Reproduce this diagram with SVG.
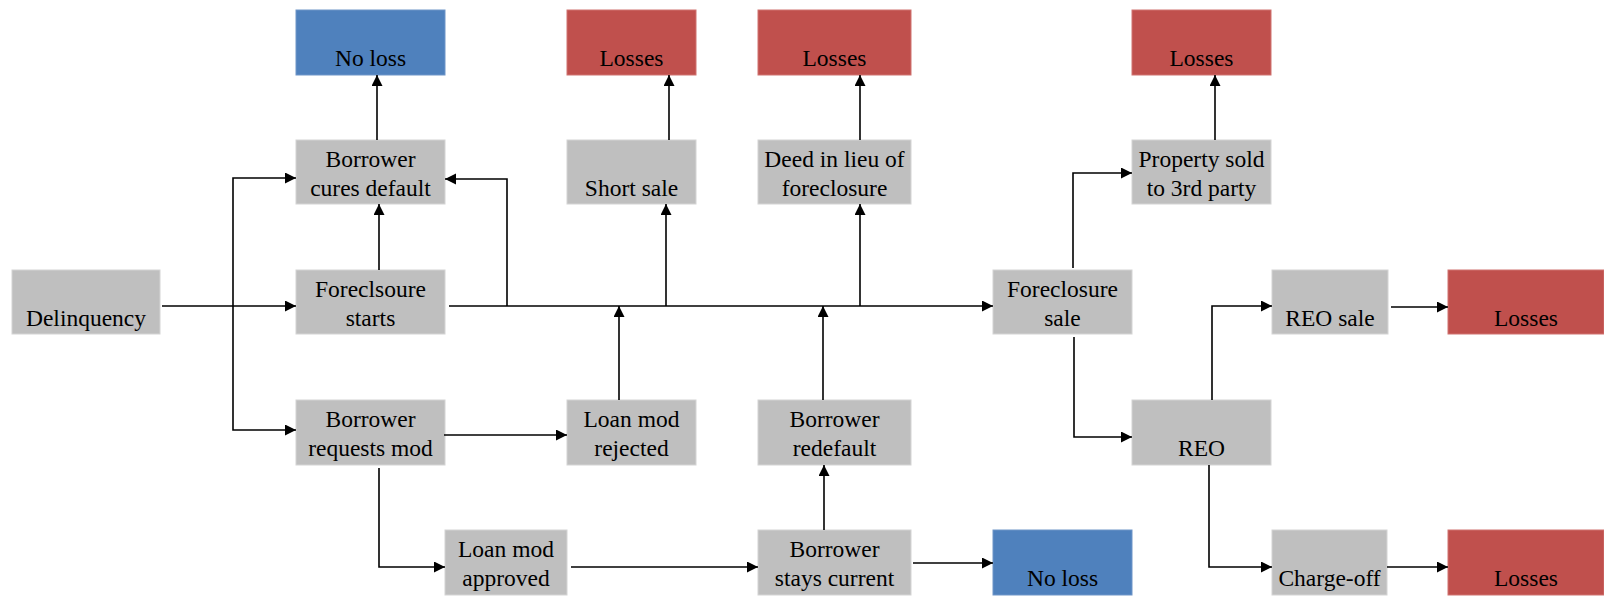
<svg xmlns="http://www.w3.org/2000/svg" width="1604" height="597" viewBox="0 0 1604 597">
<defs>
<marker id="arr" markerUnits="userSpaceOnUse" markerWidth="12" markerHeight="12" refX="11" refY="5.5" orient="auto">
<path d="M0,0 L11,5.5 L0,11 z" fill="#000"/>
</marker>
<style>
.g{fill:#BFBFBF;stroke:#D4D4D4;stroke-width:1}
.b{fill:#4F81BD;stroke:#6F95C8;stroke-width:1}
.r{fill:#C0504D;stroke:#D07370;stroke-width:1}
text{font-family:"Liberation Serif","Times New Roman",serif;font-size:23.5px;fill:#000;text-anchor:middle}
.c path{fill:none;stroke:#000;stroke-width:1.6;marker-end:url(#arr)}
</style>
</defs>
<rect width="1604" height="597" fill="#fff"/>

<g id="delinquency"><rect class="g" x="12" y="270" width="148" height="64"/><text x="86" y="326">Delinquency</text></g>
<g id="noloss1"><rect class="b" x="296" y="10" width="149" height="65"/><text x="370.5" y="66">No loss</text></g>
<g id="cures"><rect class="g" x="296" y="140" width="149" height="64"/><text x="370.5" y="167">Borrower</text><text x="370.5" y="196">cures default</text></g>
<g id="fstarts"><rect class="g" x="296" y="270" width="149" height="64"/><text x="370.5" y="297">Foreclsoure</text><text x="370.5" y="326">starts</text></g>
<g id="reqmod"><rect class="g" x="296" y="400" width="149" height="65"/><text x="370.5" y="427">Borrower</text><text x="370.5" y="456">requests mod</text></g>
<g id="approved"><rect class="g" x="445" y="530" width="122" height="65"/><text x="506" y="557">Loan mod</text><text x="506" y="586">approved</text></g>
<g id="losses1"><rect class="r" x="567" y="10" width="129" height="65"/><text x="631.5" y="66">Losses</text></g>
<g id="shortsale"><rect class="g" x="567" y="140" width="129" height="64"/><text x="631.5" y="196">Short sale</text></g>
<g id="rejected"><rect class="g" x="567" y="400" width="129" height="65"/><text x="631.5" y="427">Loan mod</text><text x="631.5" y="456">rejected</text></g>
<g id="losses2"><rect class="r" x="758" y="10" width="153" height="65"/><text x="834.5" y="66">Losses</text></g>
<g id="deed"><rect class="g" x="758" y="140" width="153" height="64"/><text x="834.5" y="167">Deed in lieu of</text><text x="834.5" y="196">foreclosure</text></g>
<g id="redefault"><rect class="g" x="758" y="400" width="153" height="65"/><text x="834.5" y="427">Borrower</text><text x="834.5" y="456">redefault</text></g>
<g id="current"><rect class="g" x="758" y="530" width="153" height="65"/><text x="834.5" y="557">Borrower</text><text x="834.5" y="586">stays current</text></g>
<g id="fsale"><rect class="g" x="993" y="270" width="139" height="64"/><text x="1062.5" y="297">Foreclosure</text><text x="1062.5" y="326">sale</text></g>
<g id="noloss2"><rect class="b" x="993" y="530" width="139" height="65"/><text x="1062.5" y="586">No loss</text></g>
<g id="losses3"><rect class="r" x="1132" y="10" width="139" height="65"/><text x="1201.5" y="66">Losses</text></g>
<g id="property"><rect class="g" x="1132" y="140" width="139" height="64"/><text x="1201.5" y="167">Property sold</text><text x="1201.5" y="196">to 3rd party</text></g>
<g id="reo"><rect class="g" x="1132" y="400" width="139" height="65"/><text x="1201.5" y="456">REO</text></g>
<g id="reosale"><rect class="g" x="1272" y="270" width="116" height="64"/><text x="1330" y="326">REO sale</text></g>
<g id="chargeoff"><rect class="g" x="1272" y="530" width="115" height="65"/><text x="1329.5" y="586">Charge-off</text></g>
<g id="losses4"><rect class="r" x="1448" y="270" width="156" height="64"/><text x="1526" y="326">Losses</text></g>
<g id="losses5"><rect class="r" x="1448" y="530" width="156" height="65"/><text x="1526" y="586">Losses</text></g>

<g id="connectors" class="c">
<path d="M162 306 H296"/>
<path d="M233 306 V178 H296"/>
<path d="M233 306 V430 H296"/>
<path d="M379 270 V204"/>
<path d="M377 140 V75"/>
<path d="M449 306 H993"/>
<path d="M507 306 V179 H445"/>
<path d="M666 306 V204"/>
<path d="M669 140 V75"/>
<path d="M860 306 V204"/>
<path d="M860 140 V75"/>
<path d="M619 400 V306"/>
<path d="M823 400 V306"/>
<path d="M824 530 V465"/>
<path d="M444 435 H567"/>
<path d="M379 468 V567 H445"/>
<path d="M571 567 H758"/>
<path d="M913 563 H993"/>
<path d="M1073 268 V173 H1132"/>
<path d="M1074 337 V437 H1132"/>
<path d="M1215 140 V75"/>
<path d="M1212 400 V306 H1272"/>
<path d="M1391 307 H1448"/>
<path d="M1209 465 V567 H1272"/>
<path d="M1387 567 H1448"/>
</g>
</svg>
